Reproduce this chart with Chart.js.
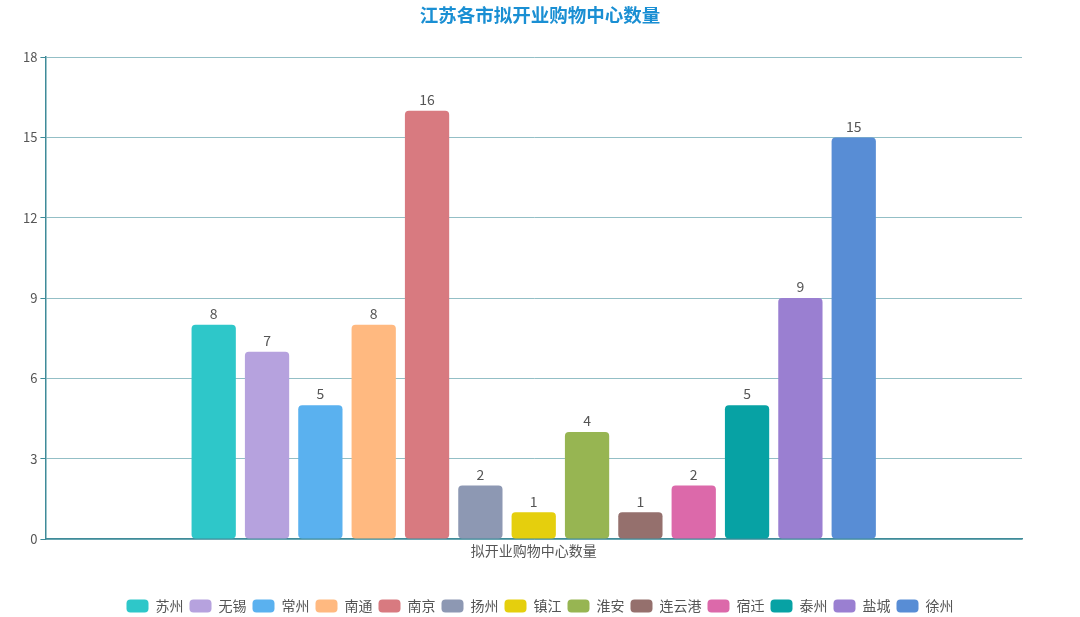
<!DOCTYPE html>
<html>
<head>
<meta charset="utf-8">
<script src="https://cdn.jsdelivr.net/npm/chart.js@4.4.1/dist/chart.umd.min.js"></script>
<style>
html,body{margin:0;padding:0;background:#fff;}
#wrap{width:1080px;height:617px;}
</style>
</head>
<body>
<div id="wrap"><canvas id="c" width="1080" height="617"></canvas></div>
<script>
const categories = ["拟开业购物中心数量"];
const cities = ["苏州","无锡","常州","南通","南京","扬州","镇江","淮安","连云港","宿迁","泰州","盐城","徐州"];
const values = [8,7,5,8,16,2,1,4,1,2,5,9,15];
const colors = ["#2ec7c9","#b6a2de","#5ab1ef","#ffb980","#d87a80","#8d98b3","#e5cf0d","#97b552","#95706d","#dc69aa","#07a2a4","#9a7fd1","#588dd5"];
const yTicks = [0,3,6,9,12,15,18];

const FONT = '"Noto Sans CJK SC", "Noto Sans", sans-serif';

const labelPlugin = {
  id: 'barLabels',
  afterDatasetsDraw(chart) {
    const ctx = chart.ctx;
    ctx.save();
    ctx.font = '14px ' + FONT;
    ctx.fillStyle = '#555';
    ctx.textAlign = 'center';
    ctx.textBaseline = 'bottom';
    chart.data.datasets.forEach((ds, i) => {
      const meta = chart.getDatasetMeta(i);
      if (meta.hidden) return;
      meta.data.forEach((bar, j) => {
        ctx.fillText(String(ds.data[j]), bar.x, bar.y - 4);
      });
    });
    ctx.restore();
  }
};

const centerPlugin = {
  id: 'centerBlocks',
  afterLayout(chart) {
    const w = chart.width;
    if (chart.legend) { chart.legend.left = 0; chart.legend.right = w; }
    if (chart.titleBlock) { chart.titleBlock.left = 0; chart.titleBlock.right = w; }
  }
};

new Chart(document.getElementById('c'), {
  type: 'bar',
  data: {
    labels: categories,
    datasets: cities.map((name, i) => ({
      label: name,
      data: [values[i]],
      backgroundColor: colors[i],
      borderRadius: 4,
      borderSkipped: false,
      categoryPercentage: 0.71,
      barPercentage: 0.83
    }))
  },
  options: {
    responsive: false,
    animation: false,
    layout: { padding: { left: 20, right: 58, top: 0, bottom: -6 } },
    plugins: {
      title: {
        display: true,
        text: '江苏各市拟开业购物中心数量',
        color: '#1a8fd3',
        font: { family: FONT, size: 18.5, weight: 'bold' },
        padding: { top: 4, bottom: 31 }
      },
      legend: {
        position: 'bottom',
        labels: {
          font: { family: FONT, size: 14 },
          color: '#555',
          boxWidth: 22,
          boxHeight: 13,
          useBorderRadius: true,
          borderRadius: 4,
          padding: 6
        }
      },
      tooltip: { enabled: false }
    },
    scales: {
      x: {
        grid: { display: false, drawTicks: false, tickLength: 0 },
        border: { color: '#3f8b99', width: 1.5 },
        ticks: { color: '#555', font: { family: FONT, size: 14 }, padding: 3 },
        afterFit(scale) { scale.height = 54; }
      },
      y: {
        min: 0, max: 18,
        afterBuildTicks(scale) { scale.ticks = yTicks.map(v => ({ value: v })); },
        grid: { color: '#93bfc6', tickColor: '#3f8b99', tickLength: 5, lineWidth: 1 },
        border: { color: '#3f8b99', width: 1.5 },
        ticks: { color: '#555', font: { family: FONT, size: 13 }, padding: 3 }
      }
    }
  },
  plugins: [labelPlugin, centerPlugin]
});
</script>
</body>
</html>
